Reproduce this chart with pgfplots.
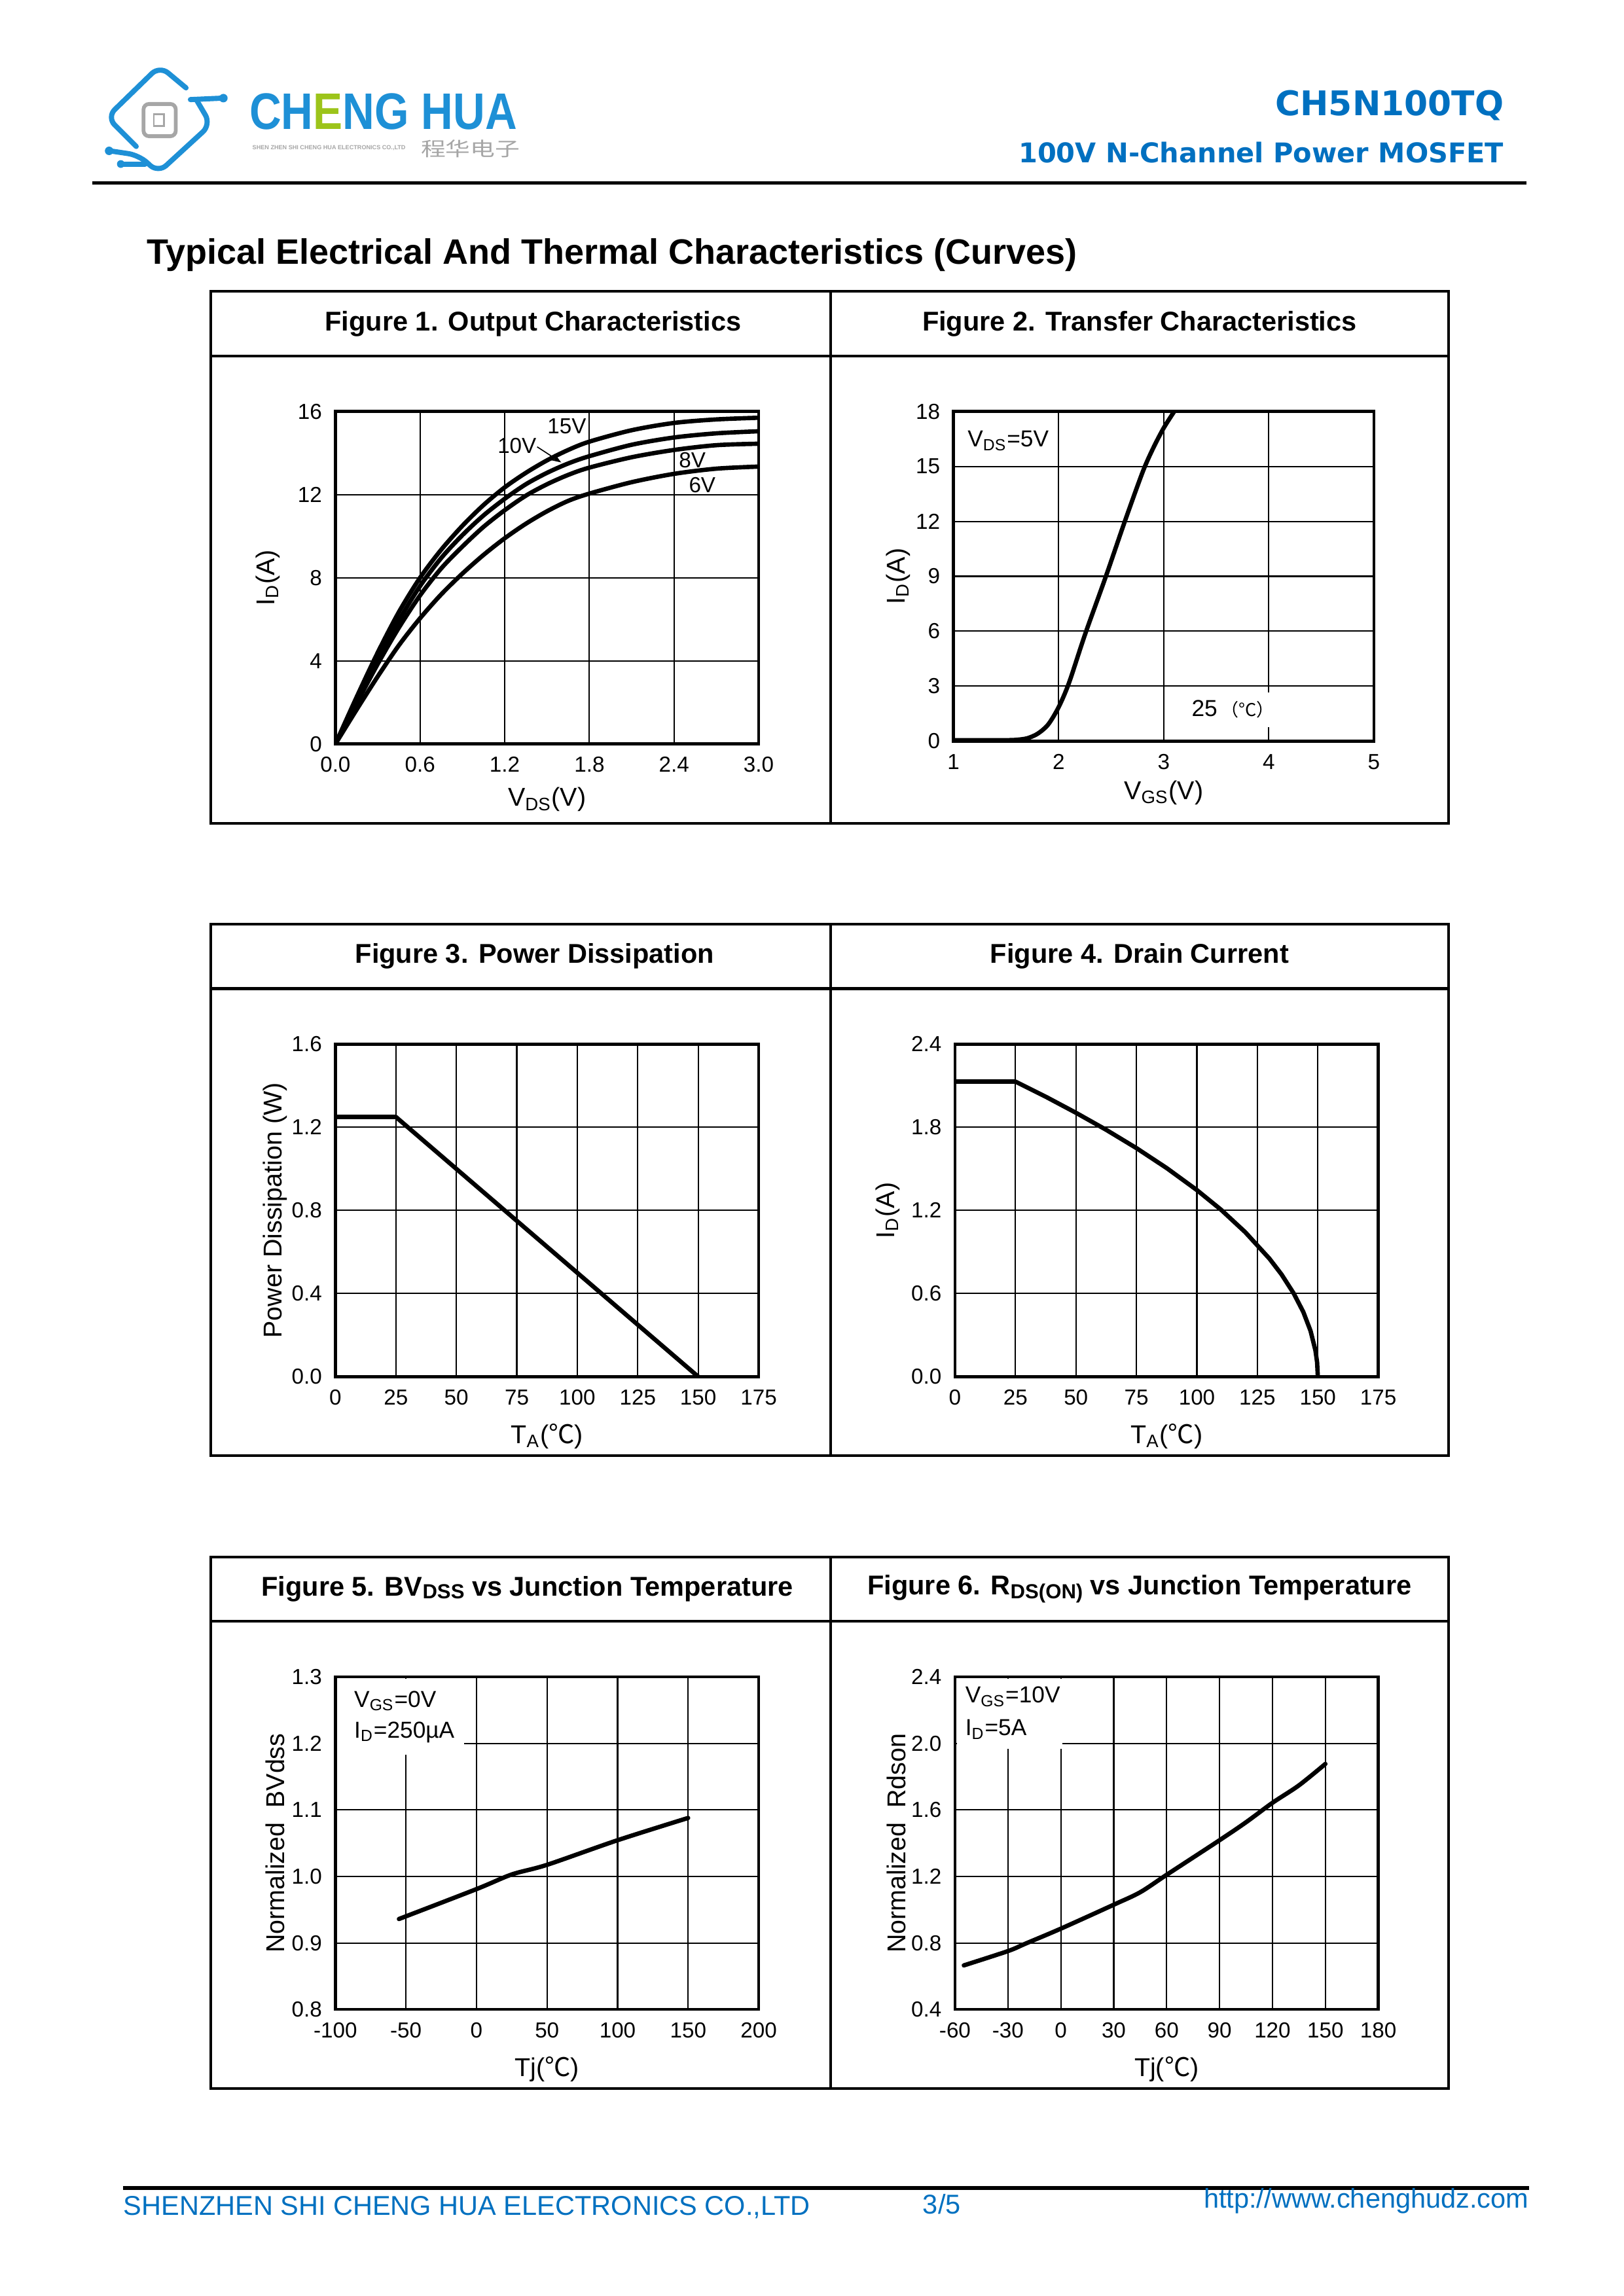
\documentclass[border=0pt]{standalone}
\usepackage{fontspec}
\setmainfont{Liberation Sans}
\newfontfamily\verd{DejaVu Sans}
\newfontfamily\cjk{Noto Sans CJK SC}
\usepackage{graphicx}
\usepackage{pgfplots}
\pgfplotsset{compat=1.18}
\usetikzlibrary{arrows.meta}

\definecolor{chblue}{HTML}{0070C0}
\definecolor{logoblue}{HTML}{1E90D6}
\definecolor{logogreen}{HTML}{9CC41A}
\definecolor{logogrey}{HTML}{A6A6A6}

\newcommand{\degC}{{\cjk ℃}}

\pgfplotsset{
  chfig/.style={
    scale only axis, width=54.75mm, height=43.01mm, anchor=south west,
    grid=major, major grid style={black, line width=0.5pt},
    axis line style={black, line width=1.1pt},
    major tick length=0pt, tick style={draw=none},
    tick label style={font=\fontsize{8}{9.6}\selectfont, text=black},
    /pgf/number format/assume math mode=true,
    xticklabel style={yshift=-0.45mm},
    yticklabel style={xshift=-0.5mm},
    label style={font=\fontsize{9.5}{11}\selectfont},
    every axis plot/.append style={black, line width=1.6pt, no marks, line join=round, line cap=round},
  },
}

\begin{document}
\begin{tikzpicture}
\path[use as bounding box] (0,0) rectangle (210mm,-297mm);

% page furniture, in pixels of the page seen at 1103 x 1560
\begin{scope}[x=0.18945mm, y=-0.18945mm]
  % logo
  \begin{scope}[logoblue, line width=1.9pt, line cap=round, line join=round]
    \draw[rounded corners=4pt] (127,60) -- (109,45) -- (73,80) -- (93,100);
    \draw (130,68) -- (152,67);
    \fill (152.5,67) circle[radius=0.55mm];
    \draw[rounded corners=4pt] (134,68) -- (144,85) -- (108,118) -- (95,106) -- (75,103);
    \fill (74.5,103) circle[radius=0.55mm];
    \draw (99,112) -- (83,112);
    \fill (82.5,112) circle[radius=0.5mm];
  \end{scope}
  \draw[logogrey, line width=1.4pt, rounded corners=2pt, fill=white] (98,71) rectangle (120,93);
  \draw[logogrey, line width=0.7pt] (105,78) rectangle (112,86);
  \node[anchor=south west, inner sep=0] at (170,89)
    {\resizebox{34.6mm}{4.64mm}{\bfseries\color{logoblue}CH{\color{logogreen}E}NG HUA}};
  \node[anchor=west, inner sep=0] at (172,101)
    {\resizebox{19.8mm}{!}{\color{logogrey}\bfseries SHEN ZHEN SHI CHENG HUA ELECTRONICS CO.,LTD}};
  \node[anchor=south west, inner sep=0] at (287,108)
    {\resizebox{12.8mm}{2.1mm}{\cjk\color{logogrey}程华电子}};

  % header
  \node[anchor=east, inner sep=0, text=chblue] at (1027,72)
    {\verd\bfseries\fontsize{12.5}{14}\selectfont CH5N100TQ};
  \node[anchor=east, inner sep=0, text=chblue] at (1027,104)
    {\verd\bfseries\fontsize{10}{12}\selectfont 100V N-Channel Power MOSFET};
  \draw[line width=1.3pt] (63,125) -- (1042,125);
  \node[anchor=west, inner sep=0] at (100,174)
    {\bfseries\fontsize{13}{15}\selectfont Typical Electrical And Thermal Characteristics (Curves)};

  % figure boxes
  \foreach \t in {199,631,1063} {
    \draw[line width=1pt] (144,\t) rectangle (989,\t+363);
    \draw[line width=1pt] (144,\t+44) -- (989,\t+44);
    \draw[line width=1pt] (567,\t) -- (567,\t+363);
  }
  \begin{scope}[every node/.style={font=\bfseries\fontsize{10}{12}\selectfont}]
    \node at (364,221) {Figure 1. Output Characteristics};
    \node at (778,221) {Figure 2. Transfer Characteristics};
    \node at (365,653) {Figure 3. Power Dissipation};
    \node at (778,653) {Figure 4. Drain Current};
    \node at (360,1085) {Figure 5. BV\raisebox{-0.2ex}{\fontsize{7.5}{8}\selectfont DSS} vs Junction Temperature};
    \node at (778,1085) {Figure 6. R\raisebox{-0.3ex}{\fontsize{7.5}{8}\selectfont DS(ON)} vs Junction Temperature};
  \end{scope}

  % footer
  \draw[line width=1.3pt] (84,1494) -- (1044,1494);
  \begin{scope}[every node/.style={text=chblue, inner sep=0, font=\fontsize{10}{12}\selectfont}]
    \node[anchor=west] at (84,1507) {SHENZHEN SHI CHENG HUA ELECTRONICS CO.,LTD};
    \node at (643,1505) {3/5};
    \node[anchor=east] at (1044,1503) {http://www.chenghudz.com};
  \end{scope}
\end{scope}

% Figure 1
\begin{axis}[chfig, at={(43.38mm,-96.24mm)},
  xmin=0, xmax=3, ymin=0, ymax=16,
  xtick={0,0.6,1.2,1.8,2.4,3.0}, ytick={0,4,8,12,16},
  xticklabel style={/pgf/number format/.cd, fixed, fixed zerofill, precision=1},
  xlabel={V\textsubscript{DS}(V)}, ylabel={I\textsubscript{D}(A)},
  xlabel style={at={(axis description cs:0.5,-0.167)}, anchor=center},
  ylabel style={at={(axis description cs:-0.159,0.5)}, anchor=center},
]
\addplot[smooth] coordinates {(0,0) (0.15,2.25) (0.3,4.4) (0.45,6.35) (0.6,8.0) (0.75,9.35) (0.9,10.5) (1.05,11.5) (1.2,12.35) (1.35,13.05) (1.5,13.65) (1.65,14.15) (1.8,14.55) (2.1,15.1) (2.4,15.45) (2.7,15.62) (3.0,15.7)};
\addplot[smooth] coordinates {(0,0) (0.15,2.1) (0.3,4.1) (0.45,5.95) (0.6,7.6) (0.75,8.95) (0.9,10.05) (1.05,11.0) (1.2,11.8) (1.35,12.5) (1.5,13.05) (1.65,13.5) (1.8,13.85) (2.1,14.4) (2.4,14.75) (2.7,14.95) (3.0,15.05)};
\addplot[smooth] coordinates {(0,0) (0.15,1.95) (0.3,3.85) (0.45,5.6) (0.6,7.15) (0.75,8.45) (0.9,9.5) (1.05,10.45) (1.2,11.25) (1.35,11.95) (1.5,12.5) (1.65,12.95) (1.8,13.3) (2.1,13.8) (2.4,14.15) (2.7,14.38) (3.0,14.45)};
\addplot[smooth] coordinates {(0,0) (0.15,1.65) (0.3,3.25) (0.45,4.75) (0.6,6.05) (0.75,7.2) (0.9,8.2) (1.05,9.1) (1.2,9.9) (1.35,10.6) (1.5,11.2) (1.65,11.7) (1.8,12.05) (2.1,12.6) (2.4,13.0) (2.7,13.25) (3.0,13.35)};
\begin{scope}[every node/.style={font=\fontsize{8}{9.6}\selectfont, inner sep=1pt}]
  \node at (axis cs:1.64,15.3) {15V};
  \node at (axis cs:1.287,14.34) {10V};
  \node at (axis cs:2.53,13.67) {8V};
  \node at (axis cs:2.6,12.45) {6V};
\end{scope}
\draw[line width=0.4pt, -{Stealth[length=1.3mm]}] (axis cs:1.43,14.3) -- (axis cs:1.6,13.55);
\end{axis}

% Figure 2
\begin{axis}[chfig, at={(123.33mm,-95.86mm)}, width=54.37mm, height=42.63mm,
  xmin=1, xmax=5, ymin=0, ymax=18,
  xtick={1,2,3,4,5}, ytick={0,3,6,9,12,15,18},
  xlabel={V\textsubscript{GS}(V)}, ylabel={I\textsubscript{D}(A)},
  xlabel style={at={(axis description cs:0.5,-0.156)}, anchor=center},
  ylabel style={at={(axis description cs:-0.132,0.5)}, anchor=center},
]
\addplot[smooth] coordinates {(1,0.05) (1.5,0.05) (1.6,0.07) (1.7,0.15) (1.8,0.4) (1.9,0.9) (2.0,1.85) (2.1,3.2) (2.25,5.8) (2.45,9.0) (2.63,12.0) (2.8,14.7) (2.9,16.0) (3.0,17.1) (3.1,18.0)};
\fill[white] (axis cs:3.3,0.77) rectangle (axis cs:4.12,2.65);
\node[font=\fontsize{8.5}{10}\selectfont] at (axis cs:3.66,1.75) {25\,{\cjk\fontsize{6.5}{8}\selectfont （°C）}};
\node[anchor=west, font=\fontsize{8.5}{10}\selectfont, inner sep=0] at (axis cs:1.13,16.4) {V\textsubscript{DS}=5V};
\end{axis}

% Figure 3
\begin{axis}[chfig, at={(43.38mm,-178.08mm)},
  xmin=0, xmax=175, ymin=0, ymax=1.6,
  xtick={0,25,50,75,100,125,150,175}, ytick={0,0.4,0.8,1.2,1.6},
  yticklabel style={/pgf/number format/.cd, fixed, fixed zerofill, precision=1},
  xlabel={T\textsubscript{A}(\degC)}, ylabel={Power Dissipation (W)},
  xlabel style={at={(axis description cs:0.5,-0.18)}, anchor=center},
  ylabel style={at={(axis description cs:-0.142,0.5)}, anchor=center},
]
\addplot[sharp plot] coordinates {(0,1.25) (25,1.25) (150,0)};
\end{axis}

% Figure 4
\begin{axis}[chfig, at={(123.52mm,-178.08mm)},
  xmin=0, xmax=175, ymin=0, ymax=2.4,
  xtick={0,25,50,75,100,125,150,175}, ytick={0,0.6,1.2,1.8,2.4},
  yticklabel style={/pgf/number format/.cd, fixed, fixed zerofill, precision=1},
  xlabel={T\textsubscript{A}(\degC)}, ylabel={I\textsubscript{D}(A)},
  xlabel style={at={(axis description cs:0.5,-0.18)}, anchor=center},
  ylabel style={at={(axis description cs:-0.159,0.5)}, anchor=center},
]
\addplot[sharp plot] coordinates {(0,2.13) (25,2.13) (37.5,2.021) (50,1.905) (62.5,1.782) (75,1.65) (87.5,1.506) (100,1.347) (110,1.205) (120,1.043) (130,0.852) (135,0.738) (140,0.602) (144,0.467) (147,0.33) (149,0.19) (149.7,0.104) (150,0)};
\end{axis}

% Figure 5
\begin{axis}[chfig, at={(43.38mm,-259.93mm)},
  xmin=-100, xmax=200, ymin=0.8, ymax=1.3,
  xtick={-100,-50,0,50,100,150,200}, ytick={0.8,0.9,1.0,1.1,1.2,1.3},
  yticklabel style={/pgf/number format/.cd, fixed, fixed zerofill, precision=1},
  xlabel={Tj(\degC)}, ylabel={Normalized\ \ BVdss},
  xlabel style={at={(axis description cs:0.5,-0.18)}, anchor=center},
  ylabel style={at={(axis description cs:-0.142,0.5)}, anchor=center},
]
\addplot[smooth] coordinates {(-55,0.936) (0,0.981) (25,1.003) (50,1.0175) (100,1.0545) (150,1.088)};
\fill[white] (axis cs:-98.8,1.183) rectangle (axis cs:-9,1.297);
\begin{scope}[every node/.style={anchor=west, inner sep=0, font=\fontsize{8.5}{10}\selectfont}]
  \node at (axis cs:-87,1.264) {V\textsubscript{GS}=0V};
  \node at (axis cs:-87,1.217) {I\textsubscript{D}=250µA};
\end{scope}
\end{axis}

% Figure 6
\begin{axis}[chfig, at={(123.52mm,-259.93mm)},
  xmin=-60, xmax=180, ymin=0.4, ymax=2.4,
  xtick={-60,-30,0,30,60,90,120,150,180}, ytick={0.4,0.8,1.2,1.6,2.0,2.4},
  yticklabel style={/pgf/number format/.cd, fixed, fixed zerofill, precision=1},
  xlabel={Tj(\degC)}, ylabel={Normalized\ \ Rdson},
  xlabel style={at={(axis description cs:0.5,-0.18)}, anchor=center},
  ylabel style={at={(axis description cs:-0.138,0.5)}, anchor=center},
]
\addplot[smooth] coordinates {(-55,0.665) (-30,0.751) (-20,0.796) (0,0.886) (30,1.03) (45,1.105) (60,1.21) (90,1.418) (105,1.526) (120,1.643) (135,1.748) (150,1.877)};
\fill[white] (axis cs:-59,1.968) rectangle (axis cs:0.7,2.39);
\begin{scope}[every node/.style={anchor=west, inner sep=0, font=\fontsize{8.5}{10}\selectfont}]
  \node at (axis cs:-54.4,2.283) {V\textsubscript{GS}=10V};
  \node at (axis cs:-54.4,2.085) {I\textsubscript{D}=5A};
\end{scope}
\end{axis}
\end{tikzpicture}
\end{document}
